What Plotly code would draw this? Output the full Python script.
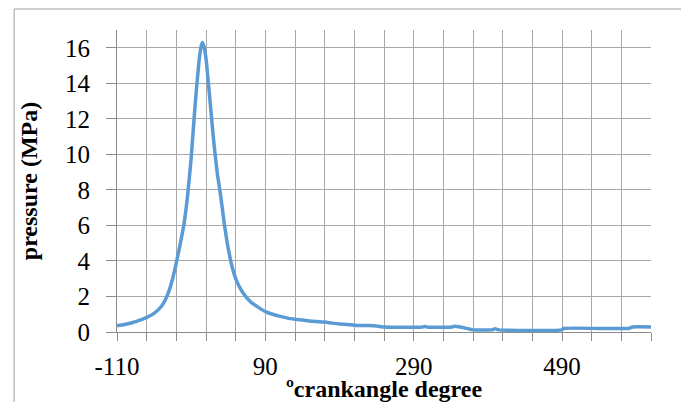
import plotly.graph_objects as go

crank_angle = [-110, -100, -90, -80, -70, -60, -50, -45, -40, -35, -30, -25, -20, -15, -10, -5,
               0, 3, 5, 7, 10, 15, 20, 25, 30, 35, 40, 45, 50, 55, 60, 70, 80, 90, 100, 110,
               120, 130, 140, 150, 160, 170, 180, 190, 200, 210, 220, 230, 240, 250, 260, 300,
               305, 310, 340, 345, 350, 360, 370, 395, 400, 405, 490, 492, 580, 585, 610]
pressure = [0.35, 0.42, 0.52, 0.65, 0.82, 1.05, 1.45, 1.8, 2.3, 3.0, 3.9, 4.9, 6.0, 7.6, 9.8, 12.6,
            15.0, 16.0, 16.3, 16.1, 15.4, 13.2, 10.9, 9.0, 7.6, 6.0, 4.7, 3.7, 3.0, 2.55, 2.2, 1.7, 1.4, 1.15, 1.0, 0.88,
            0.78, 0.72, 0.67, 0.62, 0.59, 0.56, 0.5, 0.45, 0.42, 0.38, 0.36, 0.36, 0.34, 0.28, 0.27, 0.27,
            0.31, 0.27, 0.27, 0.32, 0.3, 0.22, 0.12, 0.12, 0.18, 0.12, 0.12, 0.2, 0.2, 0.28, 0.28]

x_major_ticks = [-110, 90, 290, 490]
x_tick_labels = ["-110", "90", "290", "490"]
y_ticks = [0, 2, 4, 6, 8, 10, 12, 14, 16]
y_tick_labels = ["0", "2", "4", "6", "8", "10", "12", "14", "16"]

SERIF = "Liberation Serif, Times New Roman, serif"
GRID = "#a8a8a8"
AXIS = "#8c8c8c"

fig = go.Figure()
fig.add_trace(go.Scatter(
    x=crank_angle, y=pressure, mode="lines",
    line=dict(color="#5b9bd5", width=3.5, shape="spline", smoothing=0.5),
    showlegend=False, hoverinfo="skip",
))

fig.update_layout(
    width=681, height=394,
    margin=dict(l=109, r=38, t=22, b=70, autoexpand=False),
    paper_bgcolor="white", plot_bgcolor="white",
    font=dict(family=SERIF, size=25, color="black"),
    xaxis=dict(
        range=[-110, 610], tickmode="array", tickvals=x_major_ticks, ticktext=x_tick_labels,
        ticks="outside", ticklen=8, tickcolor=AXIS, tickwidth=1,
        showgrid=True, gridcolor=GRID, gridwidth=1,
        showline=True, linecolor=AXIS, linewidth=1,
        zeroline=False,
        minor=dict(tick0=-110, dtick=40, ticks="outside", ticklen=8, tickcolor=AXIS,
                   showgrid=True, gridcolor=GRID, gridwidth=1),
        tickfont=dict(family=SERIF, size=25),
        ticklabelstandoff=4,
        title=dict(text="ºcrankangle degree", standoff=4,
                   font=dict(family=SERIF, size=24, weight="bold")),
        automargin=False,
    ),
    yaxis=dict(
        range=[0, 17], tickmode="array", tickvals=y_ticks, ticktext=y_tick_labels,
        ticks="outside", ticklen=10, tickcolor=AXIS, tickwidth=1,
        showgrid=True, gridcolor=GRID, gridwidth=1,
        showline=True, linecolor=AXIS, linewidth=1,
        zeroline=False,
        tickfont=dict(family=SERIF, size=25),
        ticklabelstandoff=11,
        title=dict(text="pressure (MPa)", standoff=20,
                   font=dict(family=SERIF, size=24, weight="bold")),
        automargin=False,
    ),
    shapes=[dict(type="rect", xref="paper", yref="paper",
                 x0=-0.1927, x1=1.0676, y0=-0.5, y1=1.0695,
                 line=dict(color="#a0a0a0", width=1), layer="below")],
)

fig.write_html("out.html")
